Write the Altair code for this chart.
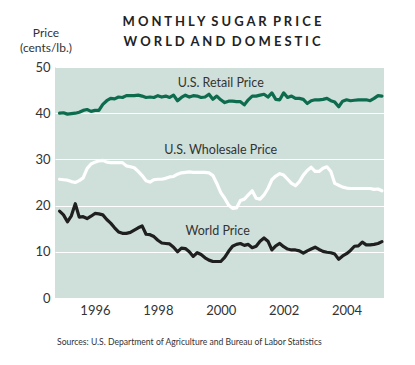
import altair as alt
import pandas as pd

# x positions (decimal years), sampled every 1/8 year from late 1994 to early 2005
years = [round(1994.875 + i / 8, 3) for i in range(83)]

retail = [40.0, 40.1, 39.8, 39.9, 40.0, 40.2, 40.6, 40.8, 40.4, 40.6,
          40.6, 41.9, 42.7, 43.2, 43.1, 43.5, 43.4, 43.8, 43.8, 43.8,
          43.9, 43.7, 43.4, 43.5, 43.4, 43.8, 43.5, 43.7, 43.4, 43.9,
          42.7, 43.4, 43.9, 43.5, 43.8, 43.7, 43.4, 43.5, 44.1, 43.0,
          43.7, 42.9, 42.3, 42.6, 42.6, 42.5, 42.5, 41.8, 42.9, 43.7,
          43.7, 43.9, 44.1, 43.5, 44.4, 43.0, 42.9, 44.4, 43.4, 43.7,
          43.2, 43.2, 43.0, 42.1, 42.7, 42.9, 42.9, 43.0, 43.2, 42.7,
          42.4, 41.4, 42.6, 42.9, 42.7, 42.8, 42.9, 42.9, 42.9, 42.7,
          43.2, 43.8, 43.7]

wholesale = [25.7, 25.6, 25.5, 25.2, 25.0, 25.4, 26.0, 28.0, 29.0, 29.4,
             29.7, 29.8, 29.4, 29.3, 29.3, 29.3, 29.3, 28.6, 28.4, 28.2,
             27.4, 26.5, 25.4, 25.1, 25.6, 25.7, 25.7, 25.9, 26.2, 26.3,
             26.8, 27.1, 27.2, 27.3, 27.2, 27.2, 27.2, 27.2, 27.1, 26.5,
             24.8, 22.8, 21.6, 20.1, 19.4, 19.5, 21.1, 21.4, 22.3, 23.2,
             21.6, 21.4, 22.3, 23.7, 25.6, 26.4, 26.9, 26.6, 25.7, 24.8,
             24.3, 25.2, 26.6, 27.6, 28.3, 27.4, 27.4, 28.1, 28.4, 27.4,
             24.8, 24.4, 24.0, 23.8, 23.7, 23.7, 23.7, 23.7, 23.7, 23.7,
             23.5, 23.6, 23.2]

world = [18.8, 18.0, 16.5, 17.8, 20.4, 17.5, 17.6, 17.2, 17.7, 18.3,
         18.2, 18.0, 17.0, 16.2, 15.2, 14.3, 14.0, 14.0, 14.2, 14.7,
         15.2, 15.6, 13.8, 13.7, 13.3, 12.5, 11.9, 11.8, 11.7, 11.0,
         10.0, 10.8, 10.7, 10.0, 9.0, 9.8, 9.4, 8.7, 8.2, 7.9,
         7.9, 7.9, 8.8, 10.1, 11.2, 11.6, 11.8, 11.4, 11.6, 10.9,
         11.2, 12.3, 13.0, 12.3, 10.4, 11.3, 11.8, 11.1, 10.6, 10.4,
         10.4, 10.2, 9.7, 10.2, 10.6, 11.0, 10.5, 10.1, 9.9, 9.8,
         9.5, 8.4, 9.1, 9.6, 10.3, 11.2, 11.3, 12.1, 11.5, 11.5,
         11.6, 11.8, 12.2]

series_names = ["U.S. Retail Price", "U.S. Wholesale Price", "World Price"]
series_colors = ["#0d6b4e", "#ffffff", "#1f1f1f"]
label_years = [2000.0, 2000.0, 1999.9]
label_values = [46.6, 32.0, 14.6]

x_ticks = [1996, 1998, 2000, 2002, 2004]
y_ticks = [0, 10, 20, 30, 40, 50]

rows = []
for name, vals in zip(series_names, [retail, wholesale, world]):
    for yr, v in zip(years, vals):
        rows.append({"year": yr, "price": v, "series": name})
df = pd.DataFrame(rows)
labels_df = pd.DataFrame({"year": label_years, "price": label_values, "label": series_names})

FONT = "Lato"

x_enc = alt.X("year:Q",
              scale=alt.Scale(domain=[1994.73, 2005.19], nice=False, zero=False),
              axis=alt.Axis(values=x_ticks, format="d", title=None, grid=False,
                            domain=False, ticks=False, labelPadding=6,
                            labelFontSize=13, labelColor="#333333", labelFont=FONT))
y_enc = alt.Y("price:Q",
              scale=alt.Scale(domain=[0, 50], nice=False),
              axis=alt.Axis(values=y_ticks, title=None, grid=True, gridColor="#ffffff",
                            gridWidth=1, domain=False, ticks=False, labelPadding=5,
                            labelFontSize=13, labelColor="#333333", labelFont=FONT))

lines = alt.Chart(df).mark_line(strokeWidth=3.2, strokeJoin="round", strokeCap="round").encode(
    x=x_enc, y=y_enc,
    color=alt.Color("series:N", scale=alt.Scale(domain=series_names, range=series_colors), legend=None),
)

series_labels = alt.Chart(labels_df).mark_text(
    font=FONT, fontSize=12.5, color="#333333", align="center", baseline="middle"
).encode(x="year:Q", y="price:Q", text="label:N")

one = pd.DataFrame({"a": [0]})
NB = "\u00a0"
def spaced(s):
    words = s.split(" ")
    return (NB * 2).join(NB.join(list(w)) for w in words)

title1 = alt.Chart(one).mark_text(
    text=spaced("MONTHLY SUGAR PRICE"), font=FONT, fontSize=13, fontWeight="bold",
    color="#222222", align="center", baseline="middle"
).encode(x=alt.value(167), y=alt.value(-45))
title2 = alt.Chart(one).mark_text(
    text=spaced("WORLD AND DOMESTIC"), font=FONT, fontSize=13, fontWeight="bold",
    color="#222222", align="center", baseline="middle"
).encode(x=alt.value(167), y=alt.value(-25))
ytitle1 = alt.Chart(one).mark_text(
    text="Price", font=FONT, fontSize=12, color="#333333", align="center", baseline="middle"
).encode(x=alt.value(-9), y=alt.value(-34))
ytitle2 = alt.Chart(one).mark_text(
    text="(cents/lb.)", font=FONT, fontSize=12, color="#333333", align="center", baseline="middle"
).encode(x=alt.value(-9), y=alt.value(-19))
source = alt.Chart(one).mark_text(
    text="Sources: U.S. Department of Agriculture and Bureau of Labor Statistics",
    font=FONT, fontSize=8.6, color="#333333", align="left", baseline="middle"
).encode(x=alt.value(2), y=alt.value(275))

chart = alt.layer(lines, series_labels, title1, title2, ytitle1, ytitle2, source).properties(
    width=329, height=231,
    autosize=alt.AutoSizeParams(type="none"),
    padding={"left": 47, "top": 59, "right": 23, "bottom": 59},
    background="#ffffff",
).configure_view(fill="#cfe0da", stroke=None)

chart.save("out.html", embed_options={"renderer": "svg", "actions": False})
